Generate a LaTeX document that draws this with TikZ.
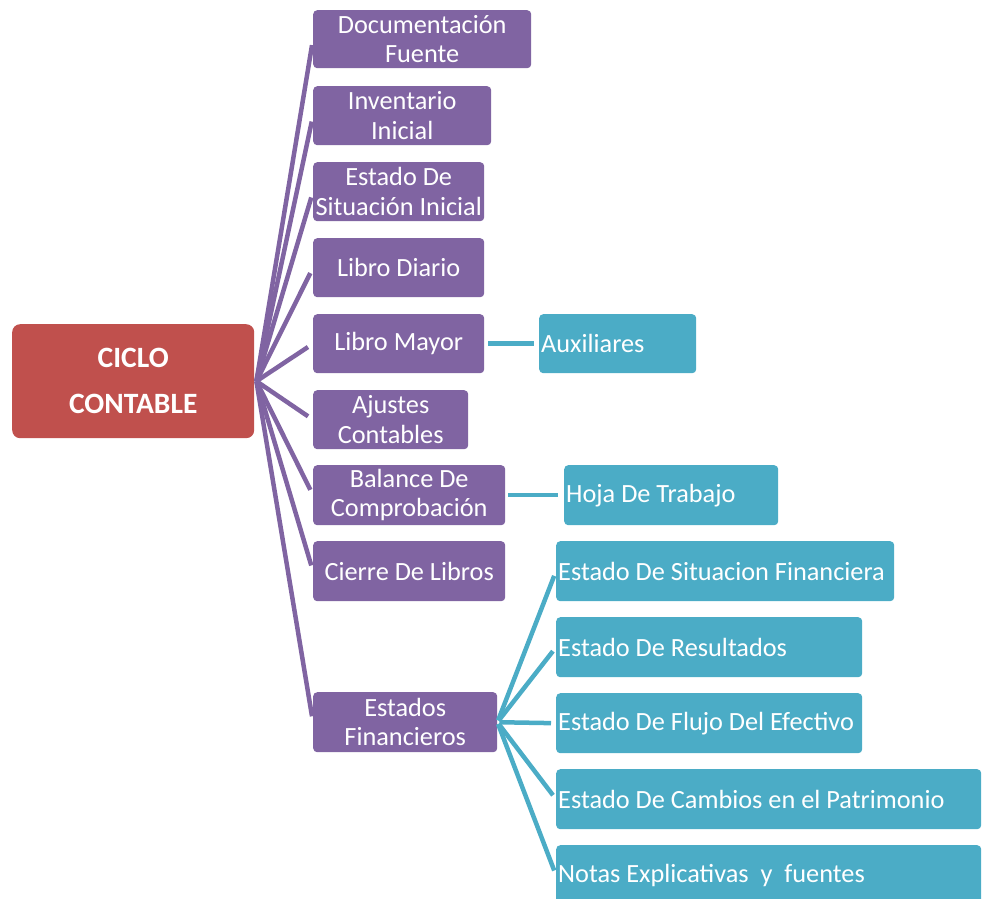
\documentclass[tikz,border=0pt]{standalone}
\usepackage{fontspec}
\setmainfont{Carlito}
\definecolor{cpurple}{HTML}{8064A2}
\definecolor{cred}{HTML}{C0504D}
\definecolor{cteal}{HTML}{4BACC6}
\begin{document}
\begin{tikzpicture}[x=1pt,y=-1pt,
  box/.style={anchor=north west,inner sep=0pt,rounded corners=4pt,text=white,
    font=\fontsize{26.3}{29.5}\selectfont},
  pbox/.style={box,fill=cpurple,align=center},
  tbox/.style={box,fill=cteal,align=flush left,inner xsep=2pt},
  plink/.style={draw=cpurple,line width=4.5pt},
  tlink/.style={draw=cteal,line width=4.5pt}]
\useasboundingbox (0,0) rectangle (982,899);
\clip (0,0) rectangle (982,899);
\node[box,fill=cred,align=center,minimum width=242pt,minimum height=114pt,rounded corners=8pt,
  font=\fontsize{29.5}{46}\selectfont\bfseries] (root) at (12,324) {CICLO\\CONTABLE};
\node[pbox,minimum width=218pt,minimum height=58pt] (n1) at (313,10) {Documentación\\Fuente};
\node[pbox,minimum width=178pt,minimum height=59pt] (n2) at (313,86) {Inventario\\Inicial};
\node[pbox,minimum width=171pt,minimum height=59pt] (n3) at (313,162) {Estado De\\Situación Inicial};
\node[pbox,minimum width=171pt,minimum height=59pt] (n4) at (313,238) {Libro Diario};
\node[pbox,minimum width=171pt,minimum height=59pt] (n5) at (313,314) {Libro Mayor};
\node[pbox,minimum width=155pt,minimum height=59pt] (n6) at (313,390) {Ajustes\\Contables};
\node[pbox,minimum width=192pt,minimum height=60pt] (n7) at (313,465) {Balance De\\Comprobación};
\node[pbox,minimum width=192pt,minimum height=60pt] (n8) at (313,541) {Cierre De Libros};
\node[pbox,minimum width=184pt,minimum height=60pt] (n9) at (313,692) {Estados\\Financieros};
\node[tbox,minimum width=157pt,minimum height=59pt,text width=153pt] (a1) at (539,314) {Auxiliares};
\node[tbox,minimum width=214pt,minimum height=60pt,text width=210pt] (h1) at (564,465) {Hoja De Trabajo};
\node[tbox,minimum width=338pt,minimum height=60pt,text width=334pt] (e1) at (556,541) {Estado De Situacion Financiera};
\node[tbox,minimum width=306pt,minimum height=60pt,text width=302pt] (e2) at (556,617) {Estado De Resultados};
\node[tbox,minimum width=306pt,minimum height=60pt,text width=302pt] (e3) at (556,693) {Estado De Flujo Del Efectivo};
\node[tbox,minimum width=425pt,minimum height=60pt,text width=421pt] (e4) at (556,769) {Estado De Cambios en el Patrimonio};
\node[tbox,minimum width=425pt,minimum height=60pt,text width=421pt] (e5) at (556,845) {Notas Explicativas\ \ y\ \ fuentes};
\coordinate (hub) at ([xshift=2pt]root.east);
\foreach \n in {n1,n2,n3,n4,n5,n6,n7,n8,n9}
  \draw[plink,shorten >=6pt] (hub) -- (\n.west);
\draw[tlink,shorten <=4pt,shorten >=5pt] (n5.east) -- (a1.west);
\draw[tlink,shorten <=3pt,shorten >=6pt] (n7.east) -- (h1.west);
\foreach \n in {e1,e2,e3,e4,e5}
  \draw[tlink,shorten <=2pt,shorten >=5pt] (n9.east) -- (\n.west);
\end{tikzpicture}
\end{document}
